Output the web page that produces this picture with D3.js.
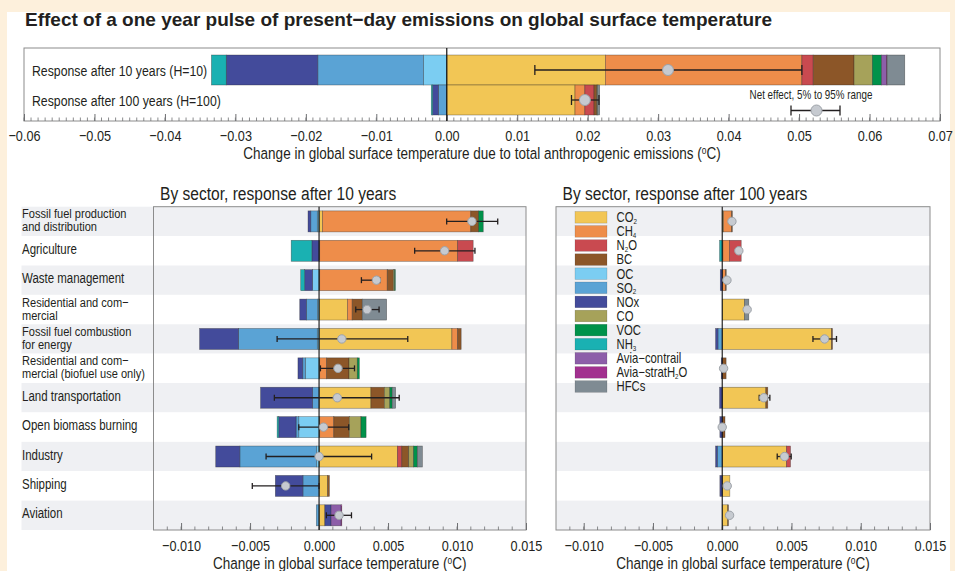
<!DOCTYPE html>
<html><head><meta charset="utf-8">
<script src="https://cdn.jsdelivr.net/npm/d3@7"></script>
<style>
body{margin:0;background:#fdf0dc;}
svg{display:block;}
text{font-family:"Liberation Sans",Arial,sans-serif;fill:#231f20;}
</style></head><body><svg id="c" width="955" height="571"></svg>
<script>
// ---------------- DATA ----------------
const species = ["CO2","CH4","N2O","BC","OC","SO2","NOx","CO","VOC","NH3","AviaContrail","AviaStratH2O","HFCs"];
const speciesLabels = ["CO_2","CH_4","N_2O","BC","OC","SO_2","NOx","CO","VOC","NH_3","Avia\u2212contrail","Avia\u2212stratH_2O","HFCs"];
const speciesColors = ["#f2c655","#ee8d4a","#c94a50","#8c5628","#7bcdf2","#5aa3d5","#434b9b","#a6a25a","#00924a","#1ab1b2","#8d5ea9","#a2308f","#7f8b93"];

// Top panel: total anthropogenic emissions (values in species order)
const horizonLabels = ["Response after 10 years (H=10)","Response after 100 years (H=100)"];
const totalH10  = [0.0225,0.0279,0.0016,0.0058,-0.0033,-0.0150,-0.0130,0.0026,0.0013,-0.0021,0.0007,0.0001,0.0025];
const totalH100 = [0.0182,0.0014,0.0013,0.0004,0.0000,-0.0012,-0.0008,0.0001,0.0000,-0.0002,0.0000,0.0000,0.0003];
const totalNet  = [0.0314,0.0196];
const totalLow  = [0.0125,0.0177];
const totalHigh = [0.0504,0.0216];

// Sectors
const sectors = ["Fossil fuel production|and distribution","Agriculture","Waste management","Residential and com\u2212|mercial","Fossil fuel combustion|for energy","Residential and com\u2212|mercial (biofuel use only)","Land transportation","Open biomass burning","Industry","Shipping","Aviation"];

// 10-year response by sector, one array per species (sector order)
const CO2_10  = [0.00025,0.00005,0.00005,0.00206,0.00963,0.00005,0.00376,0.00005,0.00568,0.00062,0.00042];
const CH4_10  = [0.01075,0.0100,0.00489,0.00034,0.00042,0.0005,0,0.00102,0,0,0];
const N2O_10  = [0,0.00112,0,0,0,0,0,0,0.00032,0,0];
const BC_10   = [0.00057,0,0.00044,0.00073,0.00025,0.00162,0.00097,0.00112,0.0005,0.00013,0];
const OC_10   = [-0.00013,0,-0.00048,-0.00012,-0.00013,-0.001,0,-0.00147,-0.00017,0,0];
const SO2_10  = [-0.00047,0,0,-0.0008,-0.00571,-0.00018,-0.00047,-0.0002,-0.00557,-0.00117,-0.0002];
const NOx_10  = [-0.0002,-0.00052,-0.00056,-0.00048,-0.00282,-0.00035,-0.00377,-0.00125,-0.00175,-0.002,0.00045];
const CO_10   = [0,0,0.0001,0,0,0.0006,0.0004,0.00085,0.00035,0,0];
const VOC_10  = [0.00033,0,0.00005,0,0,0.00015,0.00017,0.00037,0.00027,0,0];
const NH3_10  = [0,-0.0015,-0.00029,0,0,0,0,-0.00012,0,0,0];
const Contrail_10 = [0,0,0,0,0,0,0,0,0,0,0.00073];
const StratH2O_10 = [0,0,0,0,0,0,0,0,0,0,0.00005];
const HFCs_10 = [0,0,0,0.00177,0,0,0.00025,0,0.00037,0,0];
const net10  = [0.01108,0.0091,0.00416,0.00348,0.00165,0.00137,0.00132,0.00032,0.0,-0.00242,0.00145];
const low10  = [0.00925,0.00693,0.00307,0.00266,-0.00304,0.0001,-0.00324,-0.00147,-0.00384,-0.00484,0.00053];
const high10 = [0.01295,0.0113,0.0044,0.00435,0.00643,0.00257,0.00581,0.00215,0.00381,0.0,0.00235];

// 100-year response by sector
const CO2_100  = [0.0001,0.00005,0,0.00161,0.00789,0,0.00315,0,0.00464,0.00055,0.0004];
const CH4_100  = [0.00058,0.00048,0.00024,0,0,0,0,0,0,0,0];
const N2O_100  = [0,0.00084,0,0,0,0,0,0,0.00029,0,0];
const BC_100   = [0.00005,0,0.00005,0,0.00007,0.00028,0.00014,0.0002,0,0,0.00005];
const OC_100   = [0,0,0,0,0,0,0,0,0,0,0];
const SO2_100  = [0,0,0,0,-0.00031,0,0,0,-0.00036,0,0];
const NOx_100  = [0,0,-0.00014,0,-0.00017,-0.00007,-0.00019,-0.00017,-0.00012,-0.00017,0];
const CO_100   = [0,0,0,0,0,0,0,0,0,0,0];
const VOC_100  = [0,0,0,0,0,0,0,0,0,0,0];
const NH3_100  = [0,-0.00019,0,0,0,0,0,0,0,0,0];
const Contrail_100 = [0,0,0,0,0,0,0,0,0,0,0];
const StratH2O_100 = [0,0,0,0,0,0,0,0,0,0,0];
const HFCs_100 = [0,0,0,0.00031,0,0,0,0,0,0,0];
const net100  = [0.0007,0.0012,0.00034,0.0018,0.00739,0.0001,0.003,0.0,0.0045,0.00036,0.00053];
const low100  = [0.0007,0.0012,0.00034,0.0018,0.00655,0.0001,0.00267,0.0,0.00397,0.00036,0.00053];
const high100 = [0.0007,0.0012,0.00034,0.0018,0.00825,0.0001,0.00344,0.0,0.00498,0.00036,0.00053];

const topTicks = [-0.06,-0.05,-0.04,-0.03,-0.02,-0.01,0,0.01,0.02,0.03,0.04,0.05,0.06,0.07];
const sectorTicks = [-0.01,-0.005,0,0.005,0.01,0.015];

// ---------------- BUILD TABLES ----------------
const arr10 = [CO2_10,CH4_10,N2O_10,BC_10,OC_10,SO2_10,NOx_10,CO_10,VOC_10,NH3_10,Contrail_10,StratH2O_10,HFCs_10];
const arr100 = [CO2_100,CH4_100,N2O_100,BC_100,OC_100,SO2_100,NOx_100,CO_100,VOC_100,NH3_100,Contrail_100,StratH2O_100,HFCs_100];
function rowsFrom(arrs, labels){
  return labels.map((lab,i)=>{const o={label:lab}; species.forEach((k,j)=>o[k]=arrs[j][i]); return o;});
}
const topRows = [totalH10,totalH100].map((vals,i)=>{const o={label:horizonLabels[i]}; species.forEach((k,j)=>o[k]=vals[j]); return o;});
const rows10 = rowsFrom(arr10, sectors);
const rows100 = rowsFrom(arr100, sectors);
const color = d3.scaleOrdinal(species, speciesColors);
const stacker = d3.stack().keys(species).offset(d3.stackOffsetDiverging);
const NARROW = 0.82;

const svg = d3.select("#c");
svg.append("rect").attr("width",955).attr("height",571).attr("fill","#fdf0dc");
svg.append("rect").attr("x",7).attr("y",12).attr("width",943).attr("height",559).attr("fill","#ffffff");

svg.append("text").attr("x",25).attr("y",26)
  .style("font-weight","bold").style("font-size","19px")
  .text("Effect of a one year pulse of present\u2212day emissions on global surface temperature");

// condensed text helper
function T(g, x, y, size, anchor){
  return g.append("text").attr("transform",`translate(${x},${y}) scale(${NARROW},1)`)
    .attr("text-anchor",anchor||"start").style("font-size",size+"px");
}
function supText(g, x, y, before, sup, after, size){
  const t = T(g, x, y, size, "middle");
  t.append("tspan").text(before);
  t.append("tspan").attr("dy",-5).style("font-size",(size*0.62)+"px").text(sup);
  t.append("tspan").attr("dy",5).text(after);
  return t;
}
function subLabel(g, x, y, str, size){
  const t = T(g, x, y, size);
  const parts = str.split("_");
  t.append("tspan").text(parts[0]);
  for(let i=1;i<parts.length;i++){
    t.append("tspan").attr("dy",1.5).style("font-size",(size*0.55)+"px").text(parts[i][0]);
    if(parts[i].length>1) t.append("tspan").attr("dy",-1.5).text(parts[i].slice(1));
  }
}

function drawMinorTicks(g, x, y0, lo, hi, len){
  const vals = d3.range(Math.round(lo*1000), Math.round(hi*1000)+1).map(v=>v/1000);
  g.selectAll(null).data(vals).join("line")
    .attr("x1",d=>x(d)).attr("x2",d=>x(d)).attr("y1",y0).attr("y2",y0-len)
    .attr("stroke","#6d6e71").attr("stroke-width",0.8);
}
function styleAxis(a, size){
  a.select(".domain").remove();
  a.selectAll("line").attr("stroke","#6d6e71");
  a.selectAll("text").style("font-size",size+"px").attr("fill","#231f20")
    .style("font-family","'Liberation Sans',Arial,sans-serif")
    .attr("transform",function(){ return `scale(${NARROW},1)`; });
}

function drawBars(g, rows, x, y, barH){
  const series = stacker(rows);
  g.selectAll(null).data(series).join("g").attr("fill",d=>color(d.key))
    .selectAll("rect").data(d=>d.filter(s=>Math.abs(s[1]-s[0])>1e-9)).join("rect")
    .attr("x",d=>x(Math.min(d[0],d[1]))).attr("width",d=>Math.abs(x(d[1])-x(d[0])))
    .attr("y",d=>y(d.data.label)+(y.bandwidth()-barH)/2).attr("height",barH)
    .attr("stroke","rgba(40,40,40,0.55)").attr("stroke-width",0.6);
}
function drawErr(g, labels, net, low, high, x, y, cap, r){
  labels.forEach((lab,i)=>{
    const cy = y(lab)+y.bandwidth()/2;
    if(high[i]-low[i]>1e-6){
      g.append("line").attr("x1",x(low[i])).attr("x2",x(high[i])).attr("y1",cy).attr("y2",cy).attr("stroke","#231f20").attr("stroke-width",1.3);
      [low[i],high[i]].forEach(v=>g.append("line").attr("x1",x(v)).attr("x2",x(v)).attr("y1",cy-cap/2).attr("y2",cy+cap/2).attr("stroke","#231f20").attr("stroke-width",1.3));
    }
    g.append("circle").attr("cx",x(net[i])).attr("cy",cy).attr("r",r).attr("fill","#c6cad0").attr("stroke","#9da2a8").attr("stroke-width",1);
  });
}

// ---------------- TOP PANEL ----------------
const xTop = d3.scaleLinear([-0.06,0.07],[24,940]);
const yTop = d3.scaleBand(horizonLabels,[55,115]);
const gt = svg.append("g");
gt.append("rect").attr("x",24).attr("y",48).attr("width",916).attr("height",73).attr("fill","none").attr("stroke","#8c8c8c").attr("stroke-width",1);
drawMinorTicks(gt, xTop, 121, -0.06, 0.07, 3.5);
gt.append("g").attr("transform","translate(0,121)")
  .call(d3.axisBottom(xTop).tickValues(topTicks).tickFormat(d3.format(".2f")).tickSize(-7).tickPadding(9))
  .call(a=>styleAxis(a,15.5));
drawBars(gt, topRows, xTop, yTop, 30);
gt.append("line").attr("x1",xTop(0)).attr("x2",xTop(0)).attr("y1",48).attr("y2",121).attr("stroke","#111").attr("stroke-width",1.2);
drawErr(gt, horizonLabels, totalNet, totalLow, totalHigh, xTop, yTop, 10, 5.5);
horizonLabels.forEach(l=>T(gt, 32, yTop(l)+yTop.bandwidth()/2+5.5, 15).text(l));
T(gt, 811, 99, 12, "middle").text("Net effect, 5% to 95% range");
gt.append("line").attr("x1",791).attr("x2",840).attr("y1",110.5).attr("y2",110.5).attr("stroke","#231f20").attr("stroke-width",1.3);
[791,840].forEach(v=>gt.append("line").attr("x1",v).attr("x2",v).attr("y1",105.5).attr("y2",115.5).attr("stroke","#231f20").attr("stroke-width",1.3));
gt.append("circle").attr("cx",816.5).attr("cy",110.5).attr("r",5.5).attr("fill","#c6cad0").attr("stroke","#9da2a8");
supText(gt, 482, 159, "Change in global surface temperature due to total anthropogenic emissions (", "o", "C)", 16.5);

// ---------------- SECTOR PANELS ----------------
function sectorPanel(x, bandX0, title, withLabels){
  const g = svg.append("g");
  const y = d3.scaleBand(sectors,[206.7,530]);
  const [x0,x1] = x.range();
  g.selectAll(null).data(sectors).join("rect")
    .attr("x",bandX0).attr("width",x1-bandX0).attr("y",d=>y(d)).attr("height",y.bandwidth())
    .attr("fill",(d,i)=>i%2===0?"#eff0f3":"#ffffff");
  g.append("rect").attr("x",x0).attr("y",206.7).attr("width",x1-x0).attr("height",530-206.7).attr("fill","none").attr("stroke","#8c8c8c").attr("stroke-width",1);
  drawMinorTicks(g, x, 530, -0.011, 0.014, 3.5);
  g.append("g").attr("transform","translate(0,530)")
    .call(d3.axisBottom(x).tickValues(sectorTicks).tickFormat(d3.format(".3f")).tickSize(-7).tickPadding(10))
    .call(a=>styleAxis(a,15.5));
  T(g, x0+6.5, 200, 19).text(title);
  supText(g, (x0+x1)/2, 569, "Change in global surface temperature (", "o", "C)", 16.5);
  if(withLabels){
    sectors.forEach(s=>{
      const c = y(s)+y.bandwidth()/2;
      const lines = s.split("|");
      if(lines.length===1){
        T(g, 22, c+3, 14).text(lines[0]);
      } else {
        T(g, 22, c-3, 13.5).text(lines[0]);
        T(g, 22, c+10, 13.5).text(lines[1]);
      }
    });
  }
  return {g,y};
}

const xL = d3.scaleLinear([-0.012,0.015],[153.5,526]);
const pL = sectorPanel(xL, 21.5, "By sector, response after 10 years", true);
drawBars(pL.g, rows10, xL, pL.y, 21);
pL.g.append("line").attr("x1",xL(0)).attr("x2",xL(0)).attr("y1",206.7).attr("y2",530).attr("stroke","#111").attr("stroke-width",1.1);
drawErr(pL.g, sectors, net10, low10, high10, xL, pL.y, 6, 4.2);

const xR = d3.scaleLinear([-0.012,0.015],[556,930]);
const pR = sectorPanel(xR, 556, "By sector, response after 100 years", false);
// legend
const lg = pR.g.append("g");
species.forEach((k,i)=>{
  const cy = 217.3 + i*14.1;
  lg.append("rect").attr("x",575).attr("y",cy-5.8).attr("width",32).attr("height",11.6).attr("fill",color(k)).attr("stroke","rgba(40,40,40,0.3)").attr("stroke-width",0.5);
  subLabel(lg, 616.5, cy+4.8, speciesLabels[i], 13.8);
});
drawBars(pR.g, rows100, xR, pR.y, 21);
pR.g.append("line").attr("x1",xR(0)).attr("x2",xR(0)).attr("y1",206.7).attr("y2",530).attr("stroke","#111").attr("stroke-width",1.1);
drawErr(pR.g, sectors, net100, low100, high100, xR, pR.y, 6, 4.2);
</script></body></html>
